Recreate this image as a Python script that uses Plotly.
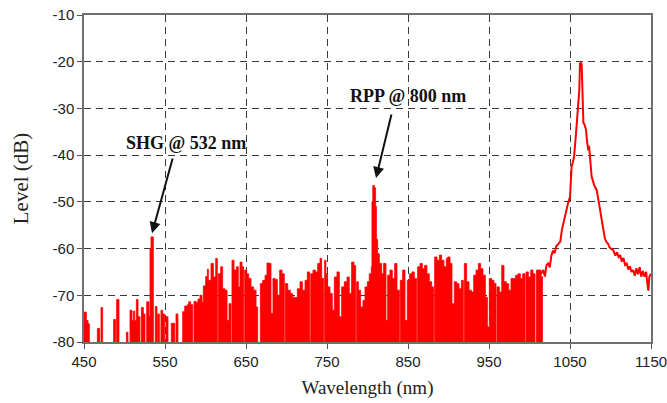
import plotly.graph_objects as go

# ---- data ----
# Noise floor region: step levels starting at each wavelength (dB); -90 = below the -80 floor
NOISE_WL = [450, 452.9, 455, 456.6, 466.5, 469.3, 471, 473, 486.6, 489, 490.3, 493.2,
            502.3, 504.3, 506.8, 509.3, 511, 512.6, 514.6, 516.7, 519.1, 520.8, 523.3, 525.3,
            527.4, 530.2, 531.5, 532.7, 535.6, 536.8, 538, 540.1, 541, 543, 545, 547.1,
            549.6, 551.2, 553.7, 557.8, 562, 563.6, 566, 571.8, 574.3, 577.6, 579.2, 581.7,
            584.2, 585.8, 588.3, 590.7, 593.2, 595.7, 597.3, 600.2, 602.3,
            603.5, 606.8, 609.7, 612.6, 614.6, 615.9, 618.7, 621.2, 624.1, 626.6, 629, 631.5,
            632.7, 635.2, 638.1, 640.5, 642.6, 645.1, 647.1, 648.4, 650.8, 653.3, 656.2, 659.5,
            662.4, 664.4, 667.7, 670.6, 673.5, 675.9, 678.8, 680.9, 683.3, 685.8, 688.7, 691.6,
            694.5, 697.3, 698.6, 701.5, 704.7, 707.6, 710.5, 713.4, 716.7, 719.6, 722.9, 725.7,
            728.6, 729.9, 732.7, 735.6, 738.5, 741.4, 743.4, 745.9, 747.1,
            748.7, 750.8, 753.7, 756.5, 759, 762.3, 765.2, 768.1, 771.4, 774.7, 777.5, 780.4,
            783.3, 785.4, 786.6, 788.7, 791.5, 794.4, 796.9, 799.8, 802.2, 804.7,
            805.5, 806.5, 808.5, 810, 811, 812.5, 814.6, 817.5, 819.9, 822.8, 824.9, 827.7,
            830.6, 833.5, 836.4, 839.3, 840.5, 843.4, 846.3, 849.1, 852, 854.9, 857.8, 860.7,
            861.9, 864.8, 867.7, 870.5, 873.4, 876.3, 879.2, 881.7, 882.9, 885.8, 888.7, 891.5,
            894.4, 897.3,
            899, 901.9, 904.3, 907.2, 910.1, 913, 915.9, 918.3, 919.6, 922.4, 925.3, 928.2,
            931.1, 934, 936.9, 939.7, 942.6, 945.5, 948, 950.4, 953.3, 956.2, 958.7, 959.9,
            962.8, 965.7, 968.5, 971.4, 974.3, 977.2, 980.1, 982.9, 985.8, 988.7, 991.6, 994.5,
            995.7, 998.6, 1001.5, 1004.3, 1006.8, 1008.5, 1011.3, 1014.2, 1016]
NOISE_DB = [-73.6, -75.4, -76.1, -90, -77.1, -90, -72.6, -90, -75.2, -90, -70.9, -90,
            -77.9, -90, -73.2, -75.4, -73.4, -75.4, -70.9, -74.6, -90, -72.6, -74, -90,
            -71.4, -74.5, -60, -57.5, -90, -90, -72.4, -90, -74, -90, -73.2, -74,
            -90, -74.6, -90, -76, -90, -74, -90, -73.5, -72.3, -72, -71.4, -72,
            -90, -71.3, -71.5, -70.8, -70, -71.5, -68, -66, -64.4,
            -66.8, -63.2, -66.1, -62.1, -90, -65.4, -63.9, -68.6, -68.9, -75.4, -71.8, -90,
            -62.5, -64.6, -63.9, -68.2, -62.9, -63.9, -90, -64.6, -65.4, -66.4, -68.2, -68.9,
            -72.5, -90, -67.5, -66.8, -65.7, -63.1, -63.2, -73.9, -66.4, -66.6, -70, -64.6,
            -65.4, -90, -67.5, -68.9, -69.6, -70.4, -70.5, -68.6, -67.1, -68.9, -66.8, -65,
            -90, -65.4, -64.6, -65, -63.2, -62.1, -66.4, -90, -62.5,
            -65.4, -68.2, -69.6, -73.2, -66.1, -65, -74.6, -68.2, -67.1, -66.1, -69.6, -62.9,
            -63.6, -90, -67.1, -68.9, -72.5, -71.1, -68.2, -67.1, -65.4, -63.9,
            -50, -46.5, -47, -51, -58, -61.1, -63.2, -65.4, -63.2, -75.4, -65.7, -64.6,
            -66.4, -63.2, -68.9, -90, -66.8, -64.6, -75.4, -66.8, -65.4, -65, -66.4, -90,
            -63.9, -63.2, -64.3, -63.6, -65.4, -67.1, -68.2, -90, -61.8, -62.5, -61.4, -62.5,
            -63.9, -62.1,
            -61.8, -63.2, -71.8, -67.1, -67.5, -68.6, -66.8, -90, -63.2, -67.1, -68.9, -69.3,
            -65.7, -64.6, -63.2, -64.3, -65.7, -70.4, -76.8, -66.4, -66.8, -67.5, -90, -68.2,
            -69.3, -63.6, -67.1, -67.5, -68.9, -66.4, -66.4, -65.7, -65.4, -66.4, -65.4, -90,
            -65, -66.1, -64.6, -65.4, -90, -64.6, -64.6, -66, -90]
NOISE_END = 1017.5
FLOOR = -90

# Pump line region (continuous trace)
PUMP_WL = [1014, 1017, 1019, 1021, 1023, 1025, 1027, 1029, 1031, 1033, 1035.6, 1038, 1040,
           1042, 1044, 1046, 1048, 1050, 1051, 1052, 1053.5, 1055, 1057.4, 1059, 1060, 1061,
           1061.5, 1062.3, 1063.5, 1064.4, 1065, 1066, 1066.5, 1068, 1069.8, 1071, 1072.6,
           1073.5, 1074.7, 1076.7, 1080, 1083, 1085, 1087, 1089, 1091, 1093, 1095, 1097, 1099,
           1101, 1103.5, 1106, 1108, 1110, 1112, 1114, 1116, 1118, 1120, 1122, 1124, 1126,
           1128, 1130, 1132, 1134, 1136, 1138, 1140, 1142, 1144, 1145.5, 1146.7, 1148, 1150]
PUMP_DB = [-65.5, -64.6, -66, -63.5, -63.2, -64, -61.5, -60.4, -61, -59.5, -59, -58.5, -56,
           -54.5, -52.5, -51, -50, -49, -45, -42.5, -41.5, -40.4, -35.4, -32, -30.4, -28,
           -26, -20.4, -20.3, -20.5, -26, -31, -33, -33.5, -34.6, -37, -39,
           -38, -40.4, -44.6, -46.5, -47.5, -49.5, -51.8, -54, -56, -57.8, -58.6, -59, -59.8,
           -60, -60.4, -61.5, -60.8, -61.8, -61.4, -62.8, -62, -63.5, -63.2, -64.5, -63.8, -65,
           -64.6, -65.8, -64.2, -65.5, -64, -66, -64.8, -66, -65, -67.5, -69, -66, -65.4]

X_TICKS = [450, 550, 650, 750, 850, 950, 1050, 1150]
Y_TICKS = [-80, -70, -60, -50, -40, -30, -20, -10]

# annotations: (label, text x, text y, arrow tail x, tail y, head x, head y)
LABELS = [("SHG @ 532 nm", 576, -37.4, 559.9, -40.4, 534, -56.7),
          ("RPP @ 800 nm", 850, -27.3, 830, -31.0, 810.5, -44.9)]

RED = "#ff0000"

fig = go.Figure()
fig.add_trace(go.Scatter(
    x=[NOISE_WL[0]] + NOISE_WL + [NOISE_END],
    y=[FLOOR] + NOISE_DB + [FLOOR],
    mode="lines", line_shape="hv", fill="toself", fillcolor=RED,
    line=dict(color=RED, width=0.8), showlegend=False, hoverinfo="skip"))
fig.add_trace(go.Scatter(
    x=PUMP_WL, y=PUMP_DB, mode="lines",
    line=dict(color=RED, width=2), showlegend=False))

for text, tx, ty, ax, ay, hx, hy in LABELS:
    fig.add_annotation(x=tx, y=ty, xref="x", yref="y", text="<b>" + text + "</b>",
                       showarrow=False,
                       font=dict(family="Liberation Serif", size=18, color="#111"))
    fig.add_annotation(x=hx, y=hy, ax=ax, ay=ay, xref="x", yref="y", axref="x", ayref="y",
                       text="", showarrow=True, arrowhead=2, arrowsize=1.1, arrowwidth=2,
                       arrowcolor="#111", standoff=0, startstandoff=0)

axis_common = dict(
    showgrid=True, gridcolor="#3a3a3a", griddash="7px,5px", gridwidth=1,
    showline=True, linecolor="#707070", linewidth=1.5, mirror=True,
    ticks="outside", ticklen=5, tickcolor="#505050", tickwidth=1.2,
    tickfont=dict(family="Liberation Sans", size=15, color="#222"),
    ticklabeloverflow="allow", automargin=False,
    zeroline=False,
)
fig.update_xaxes(range=[450, 1150], tickvals=X_TICKS, ticktext=[str(v) for v in X_TICKS],
                 title=dict(text="Wavelength (nm)", standoff=12,
                            font=dict(family="Liberation Serif", size=19, color="#222")),
                 **axis_common)
fig.update_yaxes(range=[-80, -10], tickvals=Y_TICKS, ticktext=[str(v) for v in Y_TICKS],
                 title=dict(text="Level (dB)", standoff=18,
                            font=dict(family="Liberation Serif", size=21, color="#222")),
                 **axis_common)

fig.update_layout(width=667, height=403, margin=dict(l=84, r=16, t=15, b=61),
                  paper_bgcolor="white", plot_bgcolor="white", showlegend=False)

fig.write_html("out.html")
